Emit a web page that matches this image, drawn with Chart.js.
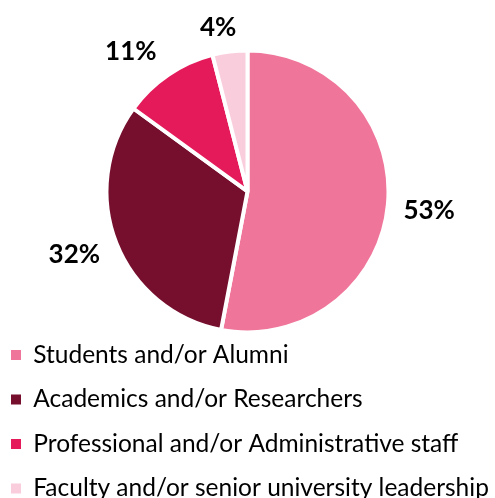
<!DOCTYPE html>
<html>
<head>
<meta charset="utf-8">
<script src="https://cdn.jsdelivr.net/npm/chart.js@4"></script>
<style>
  html, body { margin: 0; padding: 0; background: #fff; }
  canvas { display: block; }
</style>
</head>
<body>
<canvas id="respondentChart" width="495" height="498"></canvas>
<script>
const groups = [
    'Students and/or Alumni',
    'Academics and/or Researchers',
    'Professional and/or Administrative staff',
    'Faculty and/or senior university leadership'
];
const shares = [53, 32, 11, 4];
const sliceColors = ['#F0759A', '#760F2E', '#E41A5A', '#F9CDDB'];

// small hand nudges so the labels sit where the layout looks best
const labelNudge = [[-3, 1], [0, -6], [-15, 9], [-8, 4]];

// percentage labels sitting just outside each slice
const outsideLabels = {
    id: 'outsideLabels',
    afterDatasetsDraw(chart) {
        const ctx = chart.ctx;
        const meta = chart.getDatasetMeta(0);
        ctx.save();
        ctx.font = 'bold 26px Lato';
        ctx.fillStyle = '#000';
        ctx.textAlign = 'center';
        ctx.textBaseline = 'middle';
        meta.data.forEach((arc, i) => {
            const mid = (arc.startAngle + arc.endAngle) / 2;
            const text = shares[i] + '%';
            const halfW = ctx.measureText(text).width / 2;
            const halfH = 9;
            const cos = Math.cos(mid), sin = Math.sin(mid);
            const d = arc.outerRadius + 18 + halfW * Math.abs(cos) + halfH * Math.abs(sin);
            const [nx, ny] = labelNudge[i];
            ctx.fillText(text, arc.x + d * cos + nx, arc.y + d * sin + 1 + ny);
        });
        ctx.restore();
    }
};

new Chart(document.getElementById('respondentChart'), {
    type: 'pie',
    data: {
        labels: groups,
        datasets: [{
            data: shares,
            backgroundColor: sliceColors,
            borderColor: '#fff',
            borderWidth: 4,
            radius: 141
        }]
    },
    options: {
        responsive: false,
        animation: false,
        layout: {
            padding: { top: 60, left: -9, right: -5, bottom: -12.75 }
        },
        plugins: {
            tooltip: { enabled: false },
            legend: {
                position: 'bottom',
                align: 'start',
                labels: {
                    boxWidth: 10,
                    boxHeight: 10,
                    padding: 20,
                    color: '#000',
                    font: { family: 'Lato', size: 24.5 },
                    generateLabels(chart) {
                        const items = Chart.overrides.pie.plugins.legend.labels.generateLabels(chart);
                        items.forEach(item => { item.lineWidth = 0; });
                        return items;
                    }
                }
            }
        }
    },
    plugins: [outsideLabels]
});
</script>
</body>
</html>
